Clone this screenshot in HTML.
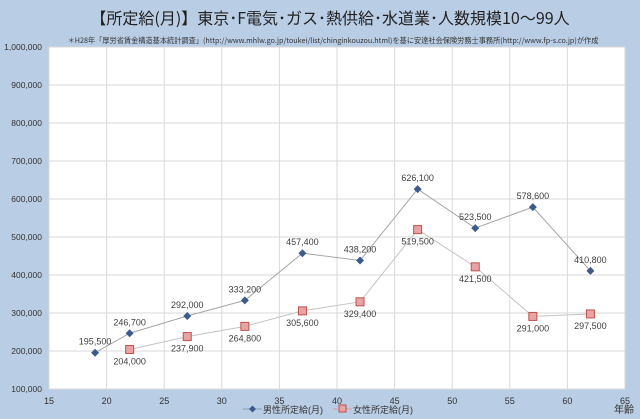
<!DOCTYPE html>
<html><head><meta charset="utf-8"><style>
body{margin:0;background:#b9cde5;}
svg{display:block;font-family:"Liberation Sans","Noto Sans CJK JP",sans-serif;}
</style></head><body>
<svg id="c" width="640" height="419" viewBox="0 0 640 419">
<rect x="0" y="0" width="640" height="419" fill="#b9cde5"/>
<text x="330" y="24" text-anchor="middle" font-size="16" fill="#222" font-family="'Noto Sans CJK JP',sans-serif">【所定給(月)】東京･F電気･ガス･熱供給･水道業･人数規模10～99人</text>
<text x="333" y="43" text-anchor="middle" font-size="7.2" fill="#333" font-family="'Noto Sans CJK JP',sans-serif">＊H28年「厚労省賃金構造基本統計調査」(http://www.mhlw.go.jp/toukei/list/chinginkouzou.html)を基に安達社会保険労務士事務所(http://www.fp-s.co.jp)が作成</text>
<rect x="49" y="47" width="576" height="342" fill="#fff"/>
<g id="grid"></g><g id="axes"></g><g id="series"></g>
<g>
<line x1="243" y1="409" x2="262" y2="409" stroke="#8a9ab0" stroke-width="1"/>
<path d="M252.5 405.5 L256 409 L252.5 412.5 L249 409Z" fill="#3b5b8c"/>
<text x="263" y="413" font-size="9" fill="#333">男性所定給(月)</text>
<line x1="333" y1="409" x2="352" y2="409" stroke="#d9a0a0" stroke-width="1"/>
<rect x="339" y="405" width="7" height="7" fill="#e8a4a4" stroke="#c0504d"/>
<text x="353" y="413" font-size="9" fill="#333">女性所定給(月)</text>
</g>
<text x="624" y="413" text-anchor="middle" font-size="10" fill="#333">年齢</text>
</svg>
<script>
const xTicks=[15,20,25,30,35,40,45,50,55,60,65];
const yTicks=[100000,200000,300000,400000,500000,600000,700000,800000,900000,1000000];
const maleAges=[19,22,27,32,37,42,47,52,57,62];
const maleValues=[195500,246700,292000,333200,457400,438200,626100,523500,578600,410800];
const femaleAges=[22,27,32,37,42,47,52,57,62];
const femaleValues=[204000,237900,264800,305600,329400,519500,421500,291000,297500];
const L=49,R=625,T=47,B=389;
const xs=v=>L+(v-15)/(65-15)*(R-L);
const ys=v=>B-(v-100000)/(1000000-100000)*(B-T);
const NS='http://www.w3.org/2000/svg';
function mk(tag,attrs,parent){const e=document.createElementNS(NS,tag);for(const k in attrs)e.setAttribute(k,attrs[k]);parent.appendChild(e);return e;}
const fmt=v=>v.toLocaleString('en-US');
const grid=document.getElementById('grid'),axes=document.getElementById('axes'),ser=document.getElementById('series');
xTicks.forEach(t=>{
 const g=mk('line',{x1:xs(t),x2:xs(t),y1:T,y2:B,stroke:'#d9d9d9'},grid);
 
 
 const tx=mk('text',{x:xs(t),y:B+15,'text-anchor':'middle','font-size':'9',fill:'#333'},axes);
 tx.textContent=t;
 
 
});
yTicks.forEach(t=>{
 const g=mk('line',{x1:L,x2:R,y1:ys(t),y2:ys(t),stroke:'#d9d9d9'},grid);
 
 
 const tx=mk('text',{x:42,y:ys(t)+3,'text-anchor':'end','font-size':'8.5',fill:'#333'},axes);
 tx.textContent=fmt(t);
 
 
});
function series(ages,vals,isMale){
 const pts=ages.map((a,i)=>xs(a)+','+ys(vals[i])).join(' ');
 const pl=mk('polyline',{points:pts,fill:'none',stroke:isMale?'#a6a6a6':'#c4c4c4','stroke-width':'1'},ser);
 
 
 ages.forEach((a,i)=>{
  const x=xs(a),y=ys(vals[i]);let m;
  if(isMale){m=mk('path',{d:`M${x} ${y-4}L${x+4} ${y}L${x} ${y+4}L${x-4} ${y}Z`,fill:'#3b5b8c'},ser);}
  else{m=mk('rect',{x:x-4,y:y-4,width:8,height:8,fill:'#e8a4a4',stroke:'#c0504d','stroke-width':'1'},ser);}
  
  
  const t=mk('text',{x:x,y:isMale?y-8:y+15,'text-anchor':'middle','font-size':'9',fill:'#404040'},ser);
  t.textContent=fmt(vals[i]);
  
  
 });
}
series(femaleAges,femaleValues,false);
series(maleAges,maleValues,true);
</script>
</body></html>
